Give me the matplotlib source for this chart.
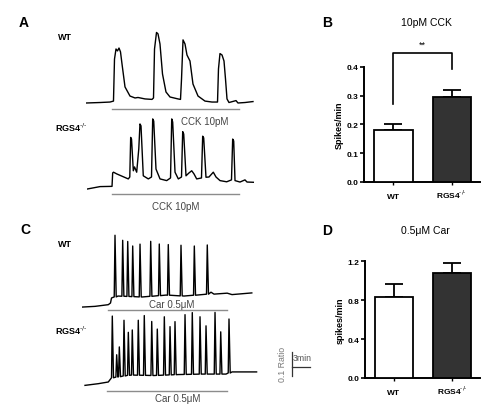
import matplotlib
matplotlib.use("Agg")
import matplotlib.pyplot as plt
import numpy as np

plt.rcParams['font.family'] = ['Liberation Sans', 'DejaVu Sans']

# ---- panel A traces (time in min, change in ratio) ----
cck_wt_t = [0, 2.33, 4.0, 4.58, 4.75, 5.0, 5.25, 5.5, 5.75, 6.0, 6.5, 7.33, 8.17, 8.67, 9.83, 11.0,
            11.25, 11.42, 11.75, 12.0, 12.33, 12.75, 13.33, 14.0, 15.33, 15.75, 15.92, 16.17, 16.5,
            16.83, 17.33, 17.83, 18.67, 19.83, 21.0, 21.92, 22.08, 22.33, 22.67, 23.0, 23.25, 23.5,
            23.83, 25.0, 25.33, 26.5, 27.83]
cck_wt_r = [0, 0.002, 0.004, 0.008, 0.183, 0.225, 0.217, 0.229, 0.213, 0.163, 0.067, 0.029, 0.021,
            0.023, 0.017, 0.015, 0.021, 0.225, 0.294, 0.288, 0.246, 0.121, 0.046, 0.025, 0.017, 0.015,
            0.1, 0.263, 0.246, 0.2, 0.175, 0.079, 0.029, 0.008, 0.004, 0.004, 0.142, 0.206, 0.2, 0.175,
            0.1, 0.017, 0.002, 0.01, 0.0, 0.002, 0.006]

cck_ko_t = [0.05, 2.17, 4.17, 4.28, 4.42, 4.95, 6.05, 6.88, 7.13, 7.28, 7.42, 7.72, 7.92, 8.28, 8.63,
            8.83, 9.0, 9.38, 10.22, 10.75, 10.95, 11.12, 11.5, 12.17, 13.28, 13.92, 14.12, 14.28,
            14.67, 15.22, 15.75, 15.95, 16.12, 16.5, 17.0, 17.45, 17.83, 18.28, 19.08, 19.28, 19.45,
            19.83, 20.33, 21.05, 21.5, 22.17, 23.28, 24.08, 24.28, 24.45, 24.67, 25.5, 26.33, 26.67,
            27.72]
cck_ko_r = [0, 0.01, 0.011, 0.067, 0.07, 0.063, 0.051, 0.042, 0.05, 0.215, 0.208, 0.076, 0.092, 0.07,
            0.167, 0.271, 0.263, 0.055, 0.042, 0.05, 0.292, 0.283, 0.083, 0.042, 0.035, 0.046, 0.292,
            0.279, 0.07, 0.042, 0.05, 0.239, 0.229, 0.055, 0.067, 0.076, 0.063, 0.042, 0.046, 0.22,
            0.213, 0.049, 0.05, 0.07, 0.05, 0.035, 0.03, 0.038, 0.208, 0.2, 0.035, 0.029, 0.038, 0.029,
            0.028]
cck_on = [4.3, 25.5]

# ---- panel C traces: baseline points + spikes ----
car_wt_base_t = [0, 2.17, 4.38, 4.75, 4.92, 6.0, 10.0, 14.0, 17.0, 21.0, 21.5, 22.0, 24.2, 25.0, 28.3]
car_wt_base_r = [-0.042, -0.039, -0.032, -0.025, -0.004, 0.004, 0.0, 0.008, 0.004, 0.012, 0.02,
                 0.012, 0.016, 0.01, 0.017]
car_wt_spk_t = [5.5, 6.78, 7.62, 8.45, 9.67, 11.45, 12.88, 14.38, 16.5, 18.72, 20.88]
car_wt_spk_a = [0.257, 0.233, 0.229, 0.211, 0.22, 0.229, 0.215, 0.211, 0.211, 0.205, 0.205]

car_ko_base_t = [0.5, 2.72, 4.38, 4.75, 4.87, 8.0, 12.0, 16.0, 20.0, 24.0, 25.0, 29.1]
car_ko_base_r = [-0.039, -0.032, -0.025, -0.017, -0.008, 0.004, 0.002, 0.006, 0.008, 0.008, 0.017,
                 0.017]
car_ko_spk_t = [5.05, 5.78, 6.22, 7.0, 7.72, 8.38, 9.38, 10.38, 11.62, 12.55, 13.72, 14.67, 15.5,
                17.17, 18.38, 19.67, 20.67, 22.17, 23.12, 24.5]
car_ko_spk_a = [0.257, 0.093, 0.124, 0.232, 0.179, 0.188, 0.229, 0.249, 0.225, 0.193, 0.243, 0.201,
                0.221, 0.249, 0.257, 0.239, 0.201, 0.257, 0.176, 0.225]
car_wt_on = [4.4, 24.1]
car_ko_on = [4.1, 24.1]

# ---- bar charts ----
ko_label = r'RGS4$^{\text{-/-}}$'
groups = ['WT', ko_label]
cck_rate = [0.181, 0.294]
cck_sem = [0.019, 0.026]
car_rate = [0.83, 1.077]
car_sem = [0.137, 0.103]

W, H = 491, 414
fig = plt.figure(figsize=(W / 100, H / 100), dpi=100)


def px_axes(left, top, width, height):
    return fig.add_axes([left / W, 1 - (top + height) / H, width / W, height / H])


def trace_axes(x0, y_ref):
    # 6 px per minute, 240 px per ratio unit
    ax = px_axes(x0, y_ref - 0.35 * 240, 40 * 6, 0.5 * 240)
    ax.set_xlim(0, 40)
    ax.set_ylim(-0.15, 0.35)
    ax.axis('off')
    ax.patch.set_alpha(0)
    return ax


def spike_trace(base_t, base_r, spk_t, spk_a):
    pts = [(t, r) for t, r in zip(base_t, base_r)
           if min(abs(t - s) for s in spk_t) > 0.3]
    for s, a in zip(spk_t, spk_a):
        b = np.interp(s, base_t, base_r)
        pts += [(s - 0.13, b), (s, b + a), (s + 0.2, b)]
    pts.sort()
    return [p[0] for p in pts], [p[1] for p in pts]


def fig_text(x, y, s, **kw):
    fig.text(x / W, 1 - y / H, s, ha=kw.pop('ha', 'center'), va=kw.pop('va', 'center'), **kw)


bar_col = '#8c8c8c'
txt_col = '#444444'

ax = trace_axes(86, 104)
ax.plot(cck_wt_t, cck_wt_r, color='black', lw=1.0)
ax.plot(cck_on, [-0.025, -0.025], color=bar_col, lw=1.0)
ax.text(19.8, -0.075, 'CCK 10pM', ha='center', va='center', fontsize=7, color=txt_col)

ax = trace_axes(87, 190)
ax.plot(cck_ko_t, cck_ko_r, color='black', lw=1.0)
ax.plot([cck_on[0] - 0.17, cck_on[1] - 0.17], [-0.021, -0.021], color=bar_col, lw=1.0)
ax.text(14.8, -0.071, 'CCK 10pM', ha='center', va='center', fontsize=7, color=txt_col)

ax = trace_axes(82, 298)
t, r = spike_trace(car_wt_base_t, car_wt_base_r, car_wt_spk_t, car_wt_spk_a)
ax.plot(t, r, color='black', lw=1.0)
ax.plot(car_wt_on, [-0.056, -0.056], color=bar_col, lw=1.0)
ax.text(14.9, -0.028, 'Car 0.5μM', ha='center', va='center', fontsize=7, color=txt_col)

ax = trace_axes(82, 377)
t, r = spike_trace(car_ko_base_t, car_ko_base_r, car_ko_spk_t, car_ko_spk_a)
ax.plot(t, r, color='black', lw=1.0)
ax.plot(car_ko_on, [-0.0625, -0.0625], color=bar_col, lw=1.0)
ax.text(16.0, -0.092, 'Car 0.5μM', ha='center', va='center', fontsize=7, color=txt_col)
# scale bar: 0.1 ratio, 3 min
ax.plot([34.95, 34.95], [0.001, 0.101], color='#333333', lw=0.9)
ax.plot([34.95, 37.95], [0.036, 0.036], color='#333333', lw=0.9)
ax.text(35.15, 0.075, '3min', ha='left', va='center', fontsize=6.3, color='#555555')
ax.text(33.4, 0.054, '0.1 Ratio', ha='center', va='center', fontsize=6.3, color='#777777',
        rotation=90)

# trace labels and panel letters
fig_text(58, 38, 'WT', fontsize=6.5, fontweight='bold', ha='left')
fig_text(55, 128, ko_label, fontsize=6.5, fontweight='bold', ha='left')
fig_text(58, 245, 'WT', fontsize=6.5, fontweight='bold', ha='left')
fig_text(55, 331, ko_label, fontsize=6.5, fontweight='bold', ha='left')
fig_text(24, 23, 'A', fontsize=10, fontweight='bold')
fig_text(25, 230, 'C', fontsize=10, fontweight='bold')
fig_text(327, 23, 'B', fontsize=10, fontweight='bold')
fig_text(327, 231, 'D', fontsize=10, fontweight='bold')


def bar_panel(ax, vals, errs, ymax, ticks, ylabel):
    x = np.arange(len(vals))
    ax.bar(x, vals, width=0.657, color=['white', '#333333'], edgecolor='black', lw=1.3, zorder=3)
    ax.errorbar(x, vals, yerr=[[0, 0], errs], fmt='none', ecolor='black', elinewidth=1.3,
                capsize=6.8, capthick=1.3, zorder=2)
    ax.set_xlim(-0.5, 1.484)
    ax.set_ylim(0, ymax)
    ax.set_yticks(ticks)
    ax.set_yticklabels(['%.1f' % v for v in ticks], fontsize=6, fontweight='bold')
    ax.set_xticks(x)
    ax.set_xticklabels(groups, fontsize=6, fontweight='bold')
    for lab in ax.get_xticklabels():
        lab.set_va('baseline')
    ax.tick_params(axis='y', length=3, width=1.2, pad=1)
    ax.tick_params(axis='x', length=2, width=1.0, pad=9.5)
    for s in ['top', 'right']:
        ax.spines[s].set_visible(False)
    for s in ['left', 'bottom']:
        ax.spines[s].set_linewidth(1.4)
    ax.set_ylabel(ylabel, fontsize=6.5, fontweight='bold', labelpad=2)
    ax.patch.set_alpha(0)


axB = px_axes(364.3, 67.7, 115.7, 115.3)
bar_panel(axB, cck_rate, cck_sem, 0.4, [0.0, 0.1, 0.2, 0.3, 0.4], 'Spikes/min')
axB.plot([0, 0, 1, 1], [0.27, 0.447, 0.447, 0.392], color='black', lw=1.2, clip_on=False)
axB.text(0.5, 0.478, '**', ha='center', va='center', fontsize=6.5)
fig_text(426, 23, '10pM CCK', fontsize=7.5)

axD = px_axes(365, 262.3, 115, 116.7)
bar_panel(axD, car_rate, car_sem, 1.2, [0.0, 0.4, 0.8, 1.2], 'spikes/min')
fig_text(425, 231, '0.5μM Car', fontsize=7.5)

fig.savefig('out.png', dpi=100)
